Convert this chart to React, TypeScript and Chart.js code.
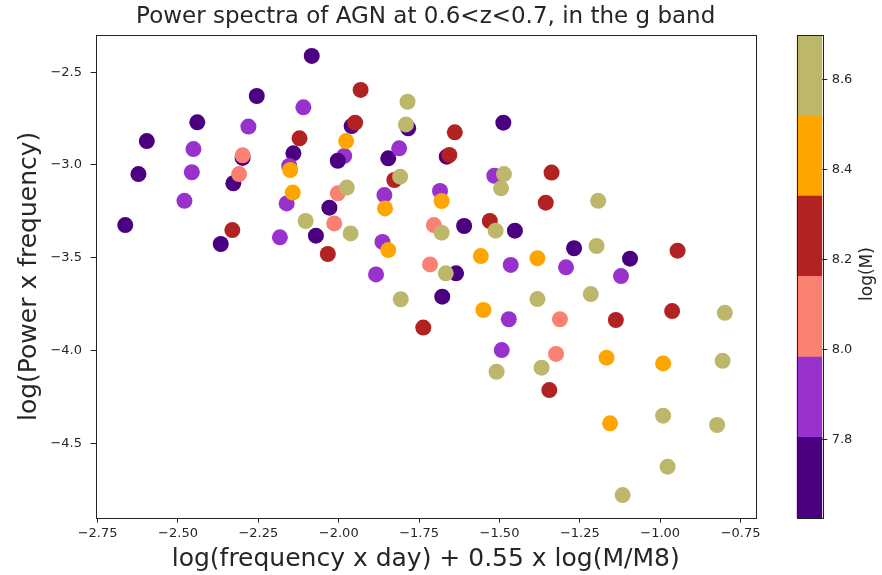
import React, { useEffect, useRef } from "react";
import { Chart, registerables } from "chart.js";

Chart.register(...registerables);

const titleText = "Power spectra of AGN at 0.6<z<0.7, in the g band";
const xLabel = "log(frequency x day) + 0.55 x log(M/M8)";
const yLabel = "log(Power x frequency)";
const cbarLabel = "log(M)";

// x = log(frequency x day) + 0.55 x log(M/M8)
const freqX = [
  // log(M) ~ 7.7
  -2.084, -2.255, -2.44, -2.597, -2.299, -2.141, -2.623, -2.328, -2.071, -2.664, -2.367, -1.96,
  -1.784, -1.488, -1.846, -1.664, -2.029, -1.61, -1.452, -1.635, -1.678, -1.268, -1.094,
  // log(M) ~ 7.9
  -2.11, -2.281, -2.452, -2.457, -2.154, -2.162, -2.48, -2.183, -1.983, -1.812, -1.516, -1.858,
  -1.685, -1.864, -1.465, -1.884, -1.471, -1.493, -1.293, -1.122,
  // log(M) ~ 7.7 (drawn on top)
  -2.003,
  // log(M) ~ 8.1
  -2.299, -2.31, -2.003, -2.014, -1.704, -1.716, -1.312, -1.324,
  // log(M) ~ 8.25
  -2.122, -2.331, -1.932, -1.949, -1.639, -1.656, -1.827, -2.034, -1.53, -1.737, -1.338, -1.356,
  -0.946, -1.138, -0.963, -1.345,
  // log(M) ~ 8.4
  -2.151, -2.143, -1.977, -1.856, -1.68, -1.846, -1.558, -1.55, -1.382, -1.167, -0.991, -1.156,
  // log(M) ~ 8.6
  -2.103, -1.786, -1.791, -1.809, -1.486, -1.495, -1.975, -1.963, -1.68, -1.512, -1.667, -1.807,
  -1.509, -1.193, -1.198, -1.382, -1.216, -0.799, -1.369, -0.806, -0.991, -0.823, -0.977, -1.117,
];

// y = log(Power x frequency)
const powerY = [
  -2.412, -2.628, -2.77, -2.871, -2.962, -2.937, -3.049, -3.099, -3.381, -3.324, -3.426, -2.79,
  -2.802, -2.772, -2.964, -2.955, -3.23, -3.329, -3.354, -3.584, -3.71, -3.449, -3.505,
  -2.689, -2.793, -2.914, -3.039, -3.005, -3.207, -3.193, -3.39, -2.951, -2.91, -3.058, -3.162,
  -3.14, -3.415, -3.539, -3.59, -3.832, -3.998, -3.552, -3.599,
  -2.977,
  -2.948, -3.049, -3.153, -3.315, -3.324, -3.536, -3.832, -4.019,
  -2.856, -3.351, -2.595, -2.772, -2.824, -2.946, -3.081, -3.48, -3.302, -3.877, -3.041, -3.203,
  -3.462, -3.836, -3.788, -4.214,
  -3.027, -3.149, -2.871, -3.234, -3.194, -3.459, -3.491, -3.782, -3.503, -4.039, -4.07, -4.393,
  -3.302, -2.659, -2.781, -3.063, -3.049, -3.126, -3.122, -3.369, -3.365, -3.354, -3.584, -3.724,
  -4.115, -3.193, -3.437, -3.723, -3.696, -3.797, -4.093, -4.056, -4.352, -4.402, -4.627, -4.78,
];

// log(M) of each source
const logMass = [
  7.72, 7.72, 7.72, 7.72, 7.72, 7.72, 7.72, 7.72, 7.72, 7.72, 7.72, 7.72,
  7.72, 7.72, 7.72, 7.72, 7.72, 7.72, 7.72, 7.72, 7.72, 7.72, 7.72,
  7.9, 7.9, 7.9, 7.9, 7.9, 7.9, 7.9, 7.9, 7.9, 7.9, 7.9, 7.9,
  7.9, 7.9, 7.9, 7.9, 7.9, 7.9, 7.9, 7.9,
  7.72,
  8.08, 8.08, 8.08, 8.08, 8.08, 8.08, 8.08, 8.08,
  8.25, 8.25, 8.25, 8.25, 8.25, 8.25, 8.25, 8.25, 8.25, 8.25, 8.25, 8.25,
  8.25, 8.25, 8.25, 8.25,
  8.43, 8.43, 8.43, 8.43, 8.43, 8.43, 8.43, 8.43, 8.43, 8.43, 8.43, 8.43,
  8.61, 8.61, 8.61, 8.61, 8.61, 8.61, 8.61, 8.61, 8.61, 8.61, 8.61, 8.61,
  8.61, 8.61, 8.61, 8.61, 8.61, 8.61, 8.61, 8.61, 8.61, 8.61, 8.61, 8.61,
];

// discrete colour map of the colour bar
const massEdges = [7.627, 7.806, 7.984, 8.163, 8.341, 8.52, 8.698];
const massColors = ["#4b0082", "#9932cc", "#fa8072", "#b22222", "#ffa500", "#bdb76b"];
const massTicks = [7.8, 8.0, 8.2, 8.4, 8.6];
const xTicks = [-2.75, -2.5, -2.25, -2.0, -1.75, -1.5, -1.25, -1.0, -0.75];
const yTicks = [-4.5, -4.0, -3.5, -3.0, -2.5];

const FONT = "'DejaVu Sans', sans-serif";
const TXT = "#262626";

function colorFor(m: number): string {
  for (let i = 0; i < massColors.length; i++) {
    if (m < massEdges[i + 1]) return massColors[i];
  }
  return massColors[massColors.length - 1];
}

const minus = (s: string) => s.replace("-", "\u2212");

const frame = {
  id: "frame",
  afterDraw(chart: any) {
    const { ctx, chartArea: a } = chart;
    ctx.save();
    ctx.strokeStyle = "#222";
    ctx.lineWidth = 1;
    ctx.strokeRect(Math.round(a.left) + 0.5, Math.round(a.top) + 0.5, Math.round(a.right - a.left), Math.round(a.bottom - a.top));
    ctx.restore();
  },
};

export default function App() {
  const mainRef = useRef<HTMLCanvasElement>(null);
  const cbarRef = useRef<HTMLCanvasElement>(null);

  useEffect(() => {
    const W = 790;
    const H = 575;
    const plotL = 95.7, plotR = 755.7, plotB = 517.7;

    const main = new Chart(mainRef.current!, {
      type: "scatter",
      data: {
        datasets: [
          {
            data: freqX.map((x, i) => ({ x, y: powerY[i] })),
            backgroundColor: logMass.map(colorFor),
            borderWidth: 0,
            pointRadius: 8,
            pointHoverRadius: 8,
          },
        ],
      },
      plugins: [frame],
      options: {
        responsive: false,
        animation: false,
        events: [],
        layout: { padding: { left: 0, right: W - plotR, top: 0, bottom: 0 } },
        plugins: {
          legend: { display: false },
          tooltip: { enabled: false },
          title: {
            display: true,
            text: titleText,
            fullSize: false,
            color: TXT,
            font: { family: FONT, size: 23, weight: "normal" },
            padding: { top: 3.2, bottom: 4.2 },
          },
        },
        scales: {
          x: {
            type: "linear",
            min: -2.756,
            max: -0.703,
            afterBuildTicks: (s: any) => { s.ticks = xTicks.map((v) => ({ value: v })); },
            afterFit: (s: any) => { s.height = H - plotB; s.paddingLeft = 0; s.paddingRight = 0; },
            ticks: {
              color: TXT,
              font: { family: FONT, size: 13 },
              padding: 3,
              maxRotation: 0,
              autoSkip: false,
              callback: (v: any) => minus(Number(v).toFixed(2)),
            },
            grid: { drawOnChartArea: false, drawTicks: true, tickLength: 5, tickColor: "#222", tickWidth: 1 },
            border: { display: false },
            title: {
              display: true,
              text: xLabel,
              color: TXT,
              font: { family: FONT, size: 25 },
              padding: { top: 0, bottom: 1 },
            },
          },
          y: {
            type: "linear",
            min: -4.902,
            max: -2.299,
            afterBuildTicks: (s: any) => { s.ticks = yTicks.map((v) => ({ value: v })); },
            afterFit: (s: any) => { s.width = plotL; s.paddingTop = 0; s.paddingBottom = 0; },
            ticks: {
              color: TXT,
              font: { family: FONT, size: 13 },
              padding: 8.7,
              autoSkip: false,
              callback: (v: any) => minus(Number(v).toFixed(1)),
            },
            grid: { drawOnChartArea: false, drawTicks: true, tickLength: 5, tickColor: "#222", tickWidth: 1 },
            border: { display: false },
            title: {
              display: true,
              text: yLabel,
              color: TXT,
              font: { family: FONT, size: 25 },
              padding: { top: 14.5, bottom: 0 },
            },
          },
        },
      },
    } as any);

    const cbarLabelPlugin = {
      id: "cbarLabel",
      afterDraw(chart: any) {
        const { ctx } = chart;
        ctx.save();
        ctx.translate(88, 274);
        ctx.rotate(-Math.PI / 2);
        ctx.fillStyle = TXT;
        ctx.font = `17px ${FONT}`;
        ctx.textAlign = "center";
        ctx.textBaseline = "middle";
        ctx.fillText(cbarLabel, 0, 0);
        ctx.restore();
      },
    };

    const cbar = new Chart(cbarRef.current!, {
      type: "bar",
      data: {
        labels: [""],
        datasets: massColors.map((c, i) => ({
          data: [[massEdges[i], massEdges[i + 1]]],
          backgroundColor: c,
          borderWidth: 0,
          grouped: false,
          barPercentage: 1,
          categoryPercentage: 1,
        })),
      },
      plugins: [frame, cbarLabelPlugin],
      options: {
        responsive: false,
        animation: false,
        events: [],
        layout: { padding: { left: 16.7, right: 0, top: 35, bottom: 57 } },
        plugins: { legend: { display: false }, tooltip: { enabled: false } },
        scales: {
          x: { display: false, stacked: false },
          y: {
            type: "linear",
            position: "right",
            stacked: false,
            min: massEdges[0],
            max: massEdges[massEdges.length - 1],
            afterBuildTicks: (s: any) => { s.ticks = massTicks.map((v) => ({ value: v })); },
            afterFit: (s: any) => { s.width = 102 - 42.3; s.paddingTop = 0; s.paddingBottom = 0; },
            ticks: {
              color: TXT,
              font: { family: FONT, size: 13 },
              padding: 4.4,
              autoSkip: false,
              callback: (v: any) => Number(v).toFixed(1),
            },
            grid: { drawOnChartArea: false, drawTicks: true, tickLength: 5, tickColor: "#222", tickWidth: 1 },
            border: { display: false },
          },
        },
      },
    } as any);

    return () => {
      main.destroy();
      cbar.destroy();
    };
  }, []);

  return (
    <div style={{ position: "absolute", left: 0, top: 0, width: 882, height: 575, background: "#fff" }}>
      <canvas ref={mainRef} width={790} height={575} style={{ position: "absolute", left: 0, top: 0 }} />
      <canvas ref={cbarRef} width={102} height={575} style={{ position: "absolute", left: 780, top: 0 }} />
    </div>
  );
}
